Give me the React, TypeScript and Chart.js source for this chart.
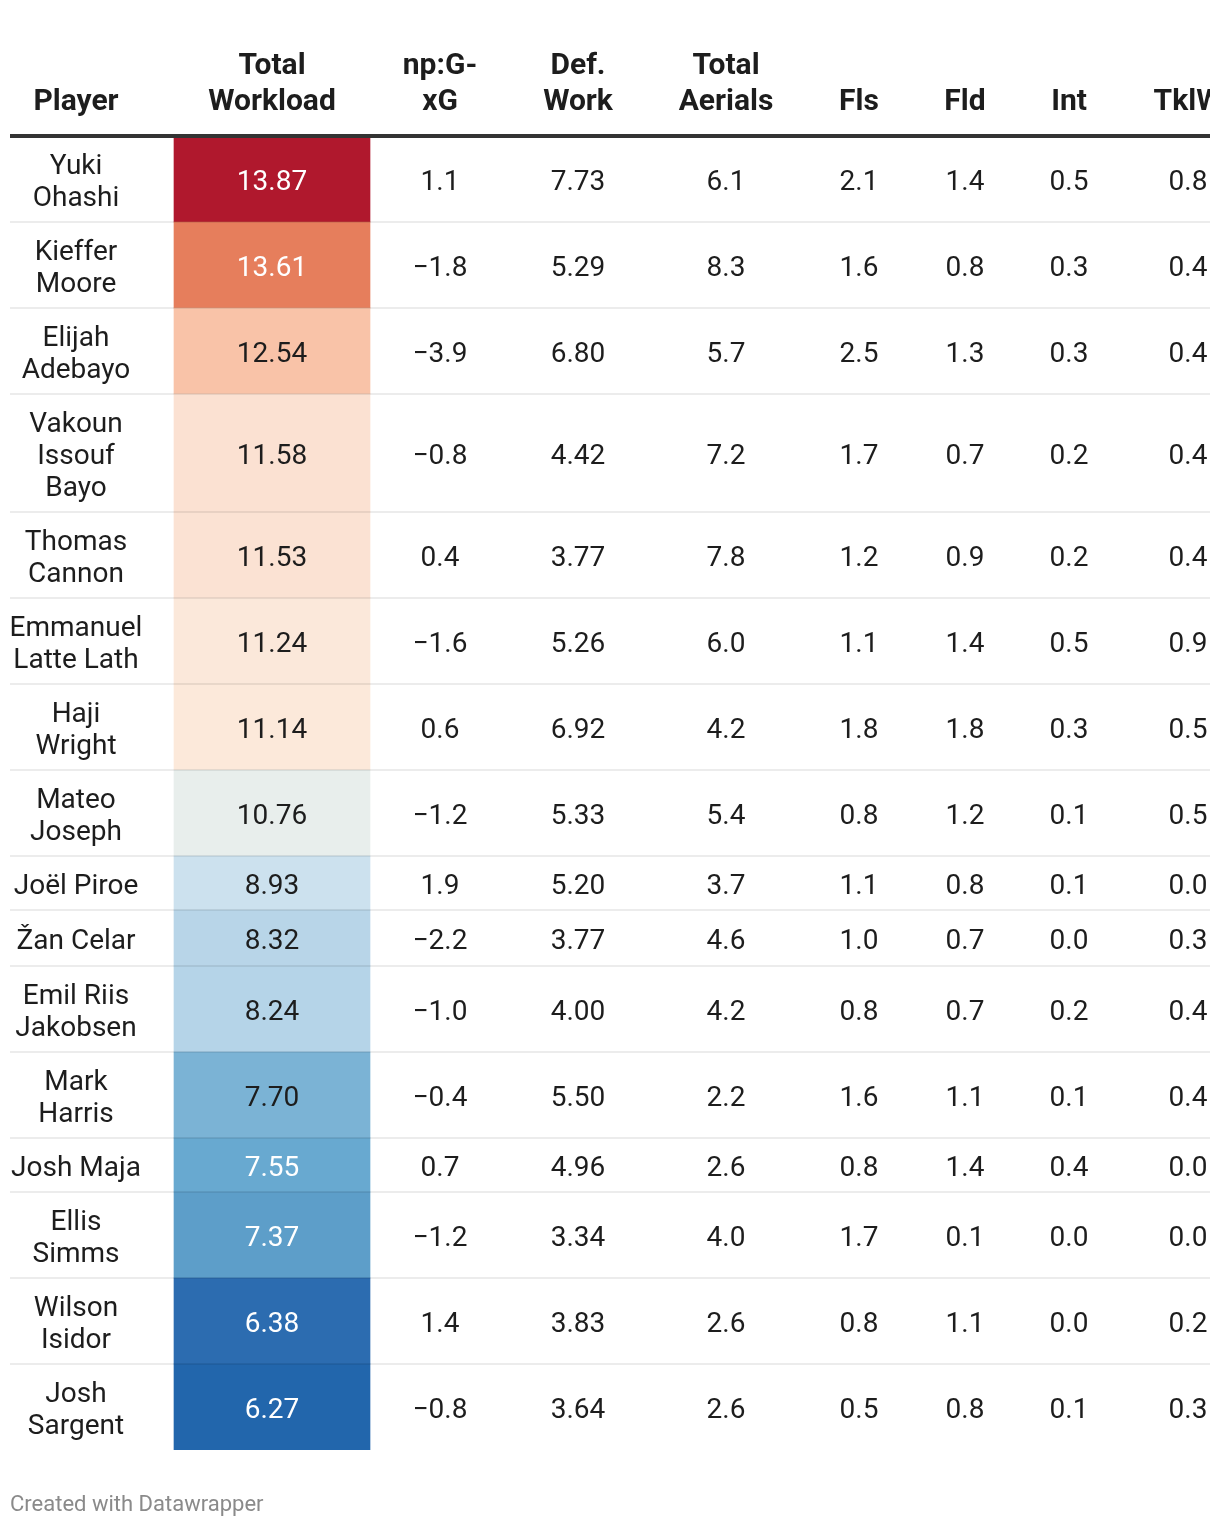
import React, { useEffect, useRef } from "react";
import { Chart, registerables } from "chart.js";

Chart.register(...registerables);

// ---------- data ----------
const PLAYERS = [
  "Yuki\nOhashi",
  "Kieffer\nMoore",
  "Elijah\nAdebayo",
  "Vakoun\nIssouf\nBayo",
  "Thomas\nCannon",
  "Emmanuel\nLatte Lath",
  "Haji\nWright",
  "Mateo\nJoseph",
  "Joël Piroe",
  "Žan Celar",
  "Emil Riis\nJakobsen",
  "Mark\nHarris",
  "Josh Maja",
  "Ellis\nSimms",
  "Wilson\nIsidor",
  "Josh\nSargent",
];
const TOTAL_WORKLOAD = [13.87, 13.61, 12.54, 11.58, 11.53, 11.24, 11.14, 10.76, 8.93, 8.32, 8.24, 7.7, 7.55, 7.37, 6.38, 6.27];
const NP_G_XG = [1.1, -1.8, -3.9, -0.8, 0.4, -1.6, 0.6, -1.2, 1.9, -2.2, -1.0, -0.4, 0.7, -1.2, 1.4, -0.8];
const DEF_WORK = [7.73, 5.29, 6.8, 4.42, 3.77, 5.26, 6.92, 5.33, 5.2, 3.77, 4.0, 5.5, 4.96, 3.34, 3.83, 3.64];
const TOTAL_AERIALS = [6.1, 8.3, 5.7, 7.2, 7.8, 6.0, 4.2, 5.4, 3.7, 4.6, 4.2, 2.2, 2.6, 4.0, 2.6, 2.6];
const FLS = [2.1, 1.6, 2.5, 1.7, 1.2, 1.1, 1.8, 0.8, 1.1, 1.0, 0.8, 1.6, 0.8, 1.7, 0.8, 0.5];
const FLD = [1.4, 0.8, 1.3, 0.7, 0.9, 1.4, 1.8, 1.2, 0.8, 0.7, 0.7, 1.1, 1.4, 0.1, 1.1, 0.8];
const INT = [0.5, 0.3, 0.3, 0.2, 0.2, 0.5, 0.3, 0.1, 0.1, 0.0, 0.2, 0.1, 0.4, 0.0, 0.0, 0.1];
const TKLW = [0.8, 0.4, 0.4, 0.4, 0.4, 0.9, 0.5, 0.5, 0.0, 0.3, 0.4, 0.4, 0.0, 0.0, 0.2, 0.3];

const HEADERS = ["Player", "Total\nWorkload", "np:G-\nxG", "Def.\nWork", "Total\nAerials", "Fls", "Fld", "Int", "TklW"];
const FOOTER = "Created with Datawrapper";

// ---------- style ----------
const WORKLOAD_COLORS = [
  "#b0182d", "#e67e5c", "#f9c3a8", "#fbe1d2", "#fbe2d3", "#fbe8da", "#fce9da", "#e8eeec",
  "#cce1ee", "#b8d5e8", "#b5d4e8", "#7bb3d5", "#68a9d0", "#5d9ec9", "#2c6cb0", "#2266ac",
];
const TEXT_DARK = "#1d1d1d";
const TEXT_LIGHT = "#ffffff";
const FOOTER_COLOR = "#8a8a8a";
const FONT_FAMILY = "Roboto, 'Noto Sans', sans-serif";
const BODY_SIZE = 28;
const HEAD_SIZE = 30;
const FOOT_SIZE = 22;

// ---------- layout ----------
const W = 1220;
const H = 1526;
const LEFT = 10;
const RIGHT = 1210;
const TABLE_TOP = 136;
const COL_CENTERS = [76, 272, 440, 578, 726, 859, 965, 1069, 1188];
const HEAT_COL_WIDTH = 196;
const LINE_H = 32;
const ROW_PAD = 22;
const HEAD_LINE_H = 36;
const BODY_BASE = 0.41;
const HEAD_BASE = 0.33;

const NUMBER_COLUMNS = [NP_G_XG, DEF_WORK, TOTAL_AERIALS, FLS, FLD, INT, TKLW];
const NUMBER_DECIMALS = [1, 2, 1, 1, 1, 1, 1];

const fmt = (v: number, d: number) => v.toFixed(d).replace("-", "\u2212");

const rowHeight = (name: string) =>
  name.split("\n").length * LINE_H + ROW_PAD + (/[ŽŠČŘ]/.test(name) ? 2 : 0);

const BOUNDS: number[] = [0];
PLAYERS.forEach((p) => BOUNDS.push(BOUNDS[BOUNDS.length - 1] + rowHeight(p)));
const TOTAL = BOUNDS[BOUNDS.length - 1];

const luminance = (hex: string) => {
  const c = [1, 3, 5].map((i) => parseInt(hex.slice(i, i + 2), 16) / 255).map((v) =>
    v <= 0.03928 ? v / 12.92 : Math.pow((v + 0.055) / 1.055, 2.4)
  );
  return 0.2126 * c[0] + 0.7152 * c[1] + 0.0722 * c[2];
};

const tablePlugin = {
  id: "tableText",
  afterDraw(chart: any) {
    const { ctx, scales, chartArea } = chart;
    const xs = scales.x;
    const ys = scales.y;
    ctx.save();
    ctx.beginPath();
    ctx.rect(0, 0, chartArea.right, H);
    ctx.clip();
    ctx.textAlign = "center";
    ctx.textBaseline = "alphabetic";

    // header
    ctx.fillStyle = TEXT_DARK;
    ctx.font = `bold ${HEAD_SIZE}px ${FONT_FAMILY}`;
    const headBottom = ys.top - HEAD_LINE_H;
    HEADERS.forEach((h, c) => {
      const lines = h.split("\n");
      const x = xs.getPixelForValue(COL_CENTERS[c]);
      lines.forEach((ln, k) => {
        const cy = headBottom - (lines.length - 1 - k) * HEAD_LINE_H;
        ctx.fillText(ln, x, cy + HEAD_SIZE * HEAD_BASE);
      });
    });

    // body
    ctx.font = `${BODY_SIZE}px ${FONT_FAMILY}`;
    PLAYERS.forEach((name, r) => {
      const cy = (ys.getPixelForValue(BOUNDS[r]) + ys.getPixelForValue(BOUNDS[r + 1])) / 2;
      const base = cy + BODY_SIZE * BODY_BASE;
      const lines = name.split("\n");
      ctx.fillStyle = TEXT_DARK;
      const px = xs.getPixelForValue(COL_CENTERS[0]);
      lines.forEach((ln, k) => {
        ctx.fillText(ln, px, base + (k - (lines.length - 1) / 2) * LINE_H);
      });
      ctx.fillStyle = luminance(WORKLOAD_COLORS[r]) < 0.39 ? TEXT_LIGHT : TEXT_DARK;
      ctx.fillText(fmt(TOTAL_WORKLOAD[r], 2), xs.getPixelForValue(COL_CENTERS[1]), base);
      ctx.fillStyle = TEXT_DARK;
      NUMBER_COLUMNS.forEach((col, c) => {
        ctx.fillText(fmt(col[r], NUMBER_DECIMALS[c]), xs.getPixelForValue(COL_CENTERS[c + 2]), base);
      });
    });
    ctx.restore();

    // footer
    ctx.save();
    ctx.fillStyle = FOOTER_COLOR;
    ctx.font = `${FOOT_SIZE}px ${FONT_FAMILY}`;
    ctx.textAlign = "left";
    ctx.textBaseline = "alphabetic";
    ctx.fillText(FOOTER, chartArea.left, 1503 + FOOT_SIZE * 0.36);
    ctx.restore();
  },
};

export default function App() {
  const ref = useRef<HTMLCanvasElement | null>(null);
  useEffect(() => {
    document.body.style.margin = "0";
    let chart: Chart | null = null;
    let cancelled = false;
    const make = () => {
      if (cancelled || !ref.current) return;
      chart = new Chart(ref.current, {
        type: "bar",
        data: {
          datasets: [
            {
              data: PLAYERS.map((_, i) => ({ x: COL_CENTERS[1], y: [BOUNDS[i], BOUNDS[i + 1]] })) as any,
              backgroundColor: WORKLOAD_COLORS,
              barThickness: HEAT_COL_WIDTH,
              borderWidth: 0,
            },
          ],
        },
        options: {
          responsive: false,
          animation: false,
          events: [],
          layout: { padding: { top: TABLE_TOP, bottom: H - TABLE_TOP - TOTAL, left: LEFT, right: W - RIGHT } },
          plugins: { legend: { display: false }, tooltip: { enabled: false }, title: { display: false } },
          scales: {
            x: { type: "linear", min: LEFT, max: RIGHT, offset: false, display: false, grid: { offset: false } },
            y: {
              type: "linear",
              reverse: true,
              min: 0,
              max: TOTAL,
              afterBuildTicks: (s: any) => {
                s.ticks = BOUNDS.map((v) => ({ value: v }));
              },
              ticks: { display: false },
              border: { display: false },
              grid: {
                z: 1,
                drawTicks: false,
                color: (c: any) =>
                  c.tick && c.tick.value === 0 ? "#333333" : c.tick && c.tick.value === TOTAL ? "rgba(0,0,0,0)" : "rgba(0,0,0,0.075)",
                lineWidth: (c: any) => (c.tick && c.tick.value === 0 ? 4 : 2),
              },
            },
          },
        } as any,
        plugins: [tablePlugin],
      });
    };
    const fonts = (document as any).fonts;
    if (fonts && fonts.load) {
      Promise.all([
        fonts.load(`${BODY_SIZE}px Roboto`),
        fonts.load(`bold ${HEAD_SIZE}px Roboto`),
      ]).then(make, make);
    } else make();
    return () => {
      cancelled = true;
      if (chart) chart.destroy();
    };
  }, []);
  return (
    <div style={{ width: W, height: H, background: "#fff" }}>
      <canvas ref={ref} width={W} height={H} style={{ display: "block", width: W, height: H }} />
    </div>
  );
}
